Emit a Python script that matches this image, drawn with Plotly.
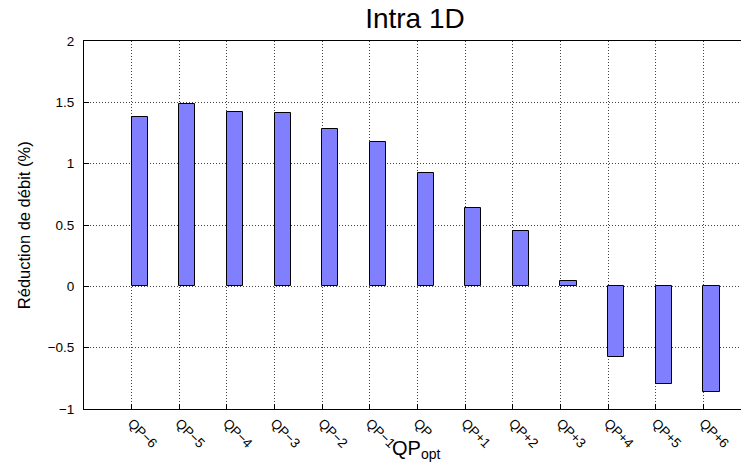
import plotly.graph_objects as go

labels = ['QP\u22126', 'QP\u22125', 'QP\u22124', 'QP\u22123', 'QP\u22122', 'QP\u22121',
          'QP', 'QP+1', 'QP+2', 'QP+3', 'QP+4', 'QP+5', 'QP+6']
reduction = [1.38, 1.49, 1.42, 1.41, 1.28, 1.18, 0.92, 0.64, 0.45, 0.04, -0.58, -0.80, -0.86]
pos = list(range(len(labels)))

font = 'Liberation Sans, Arial, sans-serif'

fig = go.Figure()
fig.add_trace(go.Bar(
    x=pos, y=reduction,
    width=0.34, offset=0,
    marker=dict(color='#8080ff', line=dict(color='black', width=1)),
    showlegend=False
))

fig.update_layout(
    width=741, height=475,
    margin=dict(l=84, r=0, t=41, b=66),
    paper_bgcolor='white', plot_bgcolor='white',
    font=dict(family=font, size=13, color='black'),
    title=dict(text='Intra 1D', x=0.56, xanchor='center', y=0.962, yanchor='middle',
               font=dict(size=28)),
    bargap=0,
    xaxis=dict(
        range=[-1, 12.79], automargin=False,
        tickmode='array', tickvals=pos, ticktext=labels,
        tickangle=45, ticks='inside', ticklen=5, tickcolor='black',
        tickfont=dict(size=13.5),
        showline=True, linecolor='black', linewidth=1, mirror=True,
        showgrid=True, gridcolor='#444444', griddash='1px,2px', gridwidth=1,
        zeroline=False,
    ),
    yaxis=dict(
        range=[-1, 2], dtick=0.5, tick0=0, automargin=False,
        ticks='inside', ticklen=5, tickcolor='black', ticklabelstandoff=6,
        tickfont=dict(size=13.5),
        showline=True, linecolor='black', linewidth=1,
        showgrid=True, gridcolor='#444444', griddash='1px,2px', gridwidth=1,
        zeroline=False,
    ),
    annotations=[
        dict(text='QP<sub>opt</sub>', x=0.505, y=-0.11, xref='paper', yref='paper',
             xanchor='center', yanchor='middle', showarrow=False,
             font=dict(size=20)),
        dict(text='Réduction de débit (%)', x=-0.091, y=0.5, xref='paper', yref='paper',
             xanchor='center', yanchor='middle', textangle=-90, showarrow=False,
             font=dict(size=16.5)),
    ],
)

# page body has an 8px default margin; drop it so the figure sits at 0,0
fig.write_html('out.html', config={'displayModeBar': False},
               post_script="document.body.style.margin='0px';")
